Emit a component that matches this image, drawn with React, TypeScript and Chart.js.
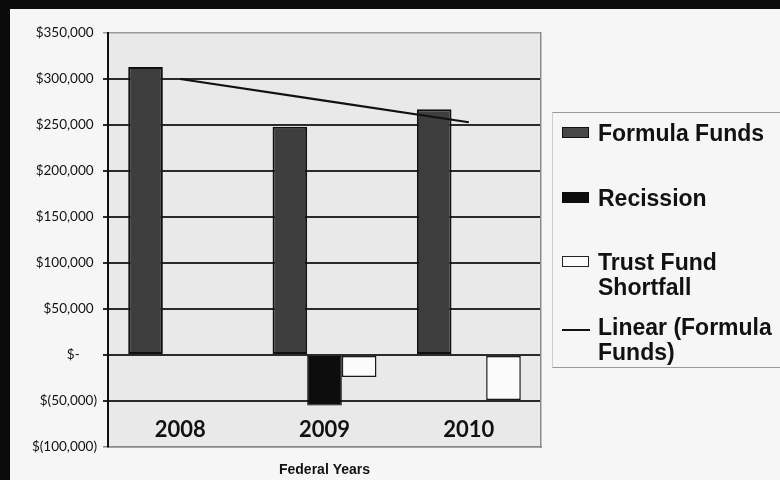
import React, { useEffect, useRef } from "react";
import { Chart, registerables } from "chart.js";

Chart.register(...registerables);

const categories = ["2008", "2009", "2010"];
const formulaFunds = [313000, 248000, 267000];
const recission = [null, -55000, null];
const trustFundShortfall = [null, -24000, -49000];
const linearFormulaFunds = [300000, 276500, 253000];

const yTickValues = [-100000, -50000, 0, 50000, 100000, 150000, 200000, 250000, 300000, 350000];
const yTickLabels = [
  "$(100,000)",
  "$(50,000)",
  "$-     ",
  "$50,000 ",
  "$100,000 ",
  "$150,000 ",
  "$200,000 ",
  "$250,000 ",
  "$300,000 ",
  "$350,000 ",
];

const legendNames = ["Formula Funds", "Recission", "Trust Fund\nShortfall", "Linear (Formula\nFunds)"];
const xTitle = "Federal Years";

const plotBg = {
  id: "plotBg",
  beforeDraw(chart: any) {
    const { ctx, chartArea } = chart;
    ctx.save();
    ctx.fillStyle = "#e9e9e9";
    ctx.fillRect(chartArea.left, chartArea.top, chartArea.right - chartArea.left, chartArea.bottom - chartArea.top);
    ctx.restore();
  },
};

export default function App() {
  const ref = useRef<HTMLCanvasElement | null>(null);

  useEffect(() => {
    if (!ref.current) return;
    const chart = new Chart(ref.current, {
      type: "bar",
      data: {
        labels: categories,
        datasets: [
          {
            label: legendNames[0],
            data: formulaFunds,
            backgroundColor: "#3e3e3e",
            borderColor: "#101010",
            borderWidth: 2,
            borderSkipped: false,
            order: 1,
          },
          {
            label: legendNames[1],
            data: recission as any,
            backgroundColor: "#0d0d0d",
            borderColor: "#0d0d0d",
            borderWidth: 1,
            borderSkipped: false,
            order: 1,
          },
          {
            label: legendNames[2],
            data: trustFundShortfall as any,
            backgroundColor: "#fbfbfb",
            borderColor: "#1a1a1a",
            borderWidth: 1.5,
            borderSkipped: false,
            order: 1,
          },
          {
            type: "line" as any,
            label: legendNames[3],
            data: linearFormulaFunds,
            borderColor: "#111",
            borderWidth: 2.2,
            pointRadius: 0,
            tension: 0,
            fill: false,
            order: 0,
          } as any,
        ],
      },
      options: {
        animation: false,
        responsive: false,
        maintainAspectRatio: false,
        layout: { padding: { top: 24, right: 239, left: 0, bottom: 0 } },
        datasets: {
          bar: { categoryPercentage: 0.72, barPercentage: 1 },
        } as any,
        plugins: {
          legend: { display: false },
          tooltip: { enabled: false },
          title: { display: false },
        },
        scales: {
          x: {
            grid: { display: false, drawTicks: false },
            border: { display: true, color: "#8a8a8a", width: 1.5 },
            ticks: {
              color: "#111",
              mirror: true,
              padding: 4,
              font: { family: "Lato", size: 22, weight: "bold" },
            },
            title: {
              display: true,
              text: xTitle,
              color: "#111",
              font: { family: "Liberation Sans", size: 14, weight: "bold" },
              padding: { top: 0, bottom: 1 },
            },
            afterFit(scale: any) {
              scale.height = 33;
            },
          },
          y: {
            min: -100000,
            max: 350000,
            afterBuildTicks(scale: any) {
              scale.ticks = yTickValues.map((v) => ({ value: v }));
            },
            ticks: {
              color: "#111",
              padding: 6,
              font: { family: "Lato", size: 13.5 },
              callback: (_v: any, i: number) => yTickLabels[i],
            },
            grid: {
              color: (c: any) => {
                const v = c.tick ? c.tick.value : 0;
                if (v === 350000) return "#9a9a9a";
                if (v === -100000) return "#8a8a8a";
                return "#2b2b2b";
              },
              lineWidth: (c: any) => {
                const v = c.tick ? c.tick.value : 0;
                return v === 350000 || v === -100000 ? 1.5 : 2;
              },
              tickLength: 5,
            },
            border: { display: true, color: "#111", width: 2 },
            afterFit(scale: any) {
              scale.width = 98;
            },
          },
          y2: {
            position: "right",
            min: -100000,
            max: 350000,
            ticks: { display: false },
            grid: { display: false, drawTicks: false },
            border: { display: true, color: "#8a8a8a", width: 1.5 },
            afterFit(scale: any) {
              scale.width = 0;
            },
          },
        },
      },
      plugins: [plotBg],
    } as any);
    return () => chart.destroy();
  }, []);

  const textStyle: React.CSSProperties = {
    position: "absolute",
    left: 598,
    fontFamily: "'Liberation Sans', Arial, sans-serif",
    fontWeight: "bold",
    fontSize: 23,
    lineHeight: "25px",
    color: "#111",
    whiteSpace: "pre",
  };
  const marker = (top: number, bg: string, border: string): React.CSSProperties => ({
    position: "absolute",
    left: 562,
    top,
    width: 25,
    height: 9,
    background: bg,
    border: `1.5px solid ${border}`,
  });

  return (
    <div style={{ position: "fixed", left: 0, top: 0, width: 780, height: 480, background: "#0a0a0a", overflow: "hidden" }}>
      <div style={{ position: "absolute", left: 10, top: 9, width: 770, height: 471, background: "#f6f6f6" }}>
        <canvas ref={ref} width={770} height={471} style={{ width: 770, height: 471, display: "block" }} />
      </div>
      <div
        style={{
          position: "absolute",
          left: 552,
          top: 112,
          width: 240,
          height: 254,
          borderTop: "1.5px solid #9a9a9a",
          borderBottom: "1.5px solid #9a9a9a",
          borderLeft: "1px solid #cfcfcf",
        }}
      />
      <div style={marker(127, "#484848", "#111")} />
      <div style={{ ...textStyle, top: 121 }}>{legendNames[0]}</div>
      <div style={marker(192, "#0d0d0d", "#0d0d0d")} />
      <div style={{ ...textStyle, top: 186 }}>{legendNames[1]}</div>
      <div style={marker(256, "#fbfbfb", "#222")} />
      <div style={{ ...textStyle, top: 250 }}>{legendNames[2]}</div>
      <div style={{ position: "absolute", left: 562, top: 329, width: 28, height: 2, background: "#111" }} />
      <div style={{ ...textStyle, top: 315 }}>{legendNames[3]}</div>
    </div>
  );
}
